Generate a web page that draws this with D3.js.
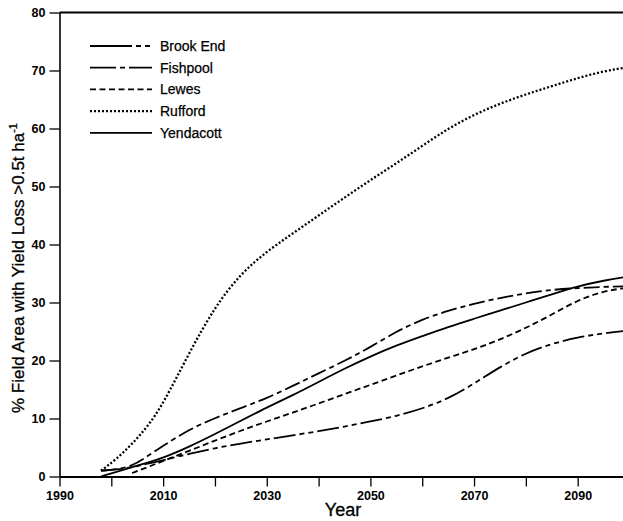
<!DOCTYPE html>
<html>
<head>
<meta charset="utf-8">
<script src="https://cdn.jsdelivr.net/npm/d3@7"></script>
<style>
  body { margin: 0; background: #fff; }
  svg { display: block; font-family: "Liberation Sans", Arial, sans-serif; }
</style>
</head>
<body>
<div id="chart"></div>
<script>
// data
var years = [1998, 2001, 2004, 2007, 2010, 2015, 2020, 2025, 2030, 2035, 2040, 2045,
             2050, 2055, 2060, 2065, 2070, 2075, 2080, 2085, 2090, 2095, 2100];

var brookEnd  = [1.0, 1.2, 1.6, 2.2, 2.8, 3.9, 4.9, 5.7, 6.4, 7.1, 7.8, 8.6,
                 9.5, 10.4, 11.7, 13.4, 16.0, 18.9, 21.3, 22.9, 24.0, 24.7, 25.2];
var fishpool  = [1.0, 1.2, 1.8, 3.5, 5.3, 8.1, 10.1, 11.8, 13.5, 15.6, 17.8, 19.9,
                 22.3, 25.0, 27.1, 28.6, 29.8, 30.8, 31.6, 32.2, 32.5, 32.7, 32.8];
var lewes     = [null, null, 0.6, 1.6, 2.7, 4.4, 6.2, 7.9, 9.5, 11.0, 12.6, 14.2,
                 15.8, 17.4, 19.0, 20.5, 21.9, 23.6, 25.6, 27.9, 30.4, 32.0, 32.6];
var rufford   = [1.0, 3.0, 5.6, 8.6, 12.5, 21.3, 29.3, 35.0, 38.8, 41.9, 45.0, 48.1,
                 51.1, 54.0, 57.0, 60.0, 62.4, 64.3, 65.9, 67.3, 68.7, 69.9, 70.6];
var yendacott = [0.0, 0.8, 1.6, 2.4, 3.2, 5.1, 7.3, 9.6, 11.9, 14.0, 16.3, 18.6,
                 20.7, 22.6, 24.2, 25.8, 27.2, 28.6, 30.0, 31.4, 32.8, 33.8, 34.5];

var seriesNames = ["Brook End", "Fishpool", "Lewes", "Rufford", "Yendacott"];
var seriesValues = [brookEnd, fishpool, lewes, rufford, yendacott];
var dashes = ["22,4,5,4,5,4", "16,4,5,4", "6,3.5", "2,2", null];

var yTicks = [0, 10, 20, 30, 40, 50, 60, 70, 80];
var xTicks = [1990, 2000, 2010, 2020, 2030, 2040, 2050, 2060, 2070, 2080, 2090];
var xLabels = [1990, 2010, 2030, 2050, 2070, 2090];

var svgWidth = 623;
var svgHeight = 521;

var svg = d3.select("#chart")
    .append("svg")
    .attr("width", svgWidth)
    .attr("height", svgHeight);

// SCALES
//=====================
var x = d3.scaleLinear()
    .domain([1990, 2100])
    .range([59.5, 629.5]);

var y = d3.scaleLinear()
    .domain([0, 80])
    .range([476.5, 12.5]);

// AXES
//=====================
var yAxis = svg.append("g")
    .attr("transform", "translate(59.5,0)")
    .call(d3.axisLeft(y).tickValues(yTicks).tickSize(10).tickSizeOuter(0).tickPadding(4));

yAxis.select(".domain").attr("stroke-width", 1.6);
yAxis.selectAll(".tick line").attr("stroke-width", 1.3);
yAxis.selectAll("text")
    .attr("font-size", 12.5)
    .attr("font-weight", "bold")
    .attr("fill", "#000");

var xAxis = svg.append("g")
    .attr("transform", "translate(0,476.5)")
    .call(d3.axisBottom(x).tickValues(xTicks).tickSize(10).tickSizeOuter(0).tickPadding(5)
        .tickFormat(d => xLabels.indexOf(d) >= 0 ? d : ""));

xAxis.select(".domain").attr("stroke-width", 2);
xAxis.selectAll(".tick line").attr("stroke-width", 1.3);
xAxis.selectAll("text")
    .attr("font-size", 12.5)
    .attr("font-weight", "bold")
    .attr("fill", "#000");

// top frame line
svg.append("line")
    .attr("x1", x(1990)).attr("x2", svgWidth)
    .attr("y1", y(80)).attr("y2", y(80))
    .attr("stroke", "#000")
    .attr("stroke-width", 1.8);

// LINES
//=====================
var line = d3.line()
    .defined(d => d[1] != null)
    .x(d => x(d[0]))
    .y(d => y(d[1]))
    .curve(d3.curveBasis);

seriesValues.forEach(function(vals, i) {
    var pts = years.map((yr, j) => [yr, vals[j]]);
    svg.append("path")
        .datum(pts)
        .attr("fill", "none")
        .attr("stroke", "#000")
        .attr("stroke-width", i == 3 ? 2.3 : 1.8)
        .attr("stroke-dasharray", dashes[i])
        .attr("d", line);
});

// LEGEND
//=====================
var legend = svg.append("g");
seriesNames.forEach(function(name, i) {
    var ly = 46 + i * 21.7;
    legend.append("line")
        .attr("x1", 90).attr("x2", 152)
        .attr("y1", ly).attr("y2", ly)
        .attr("stroke", "#000")
        .attr("stroke-width", i == 3 ? 2.3 : 1.8)
        .attr("stroke-dasharray", i == 0 ? "42,4,5,4,5,4" : (i == 1 ? "26,4,5,4" : dashes[i]));
    legend.append("text")
        .attr("x", 160)
        .attr("y", ly)
        .attr("dy", "0.35em")
        .attr("font-size", 14)
        .attr("stroke", "#000")
        .attr("stroke-width", 0.25)
        .text(name);
});

// AXIS LABELS
//=====================
var yLabel = svg.append("text")
    .attr("transform", "translate(24,268) rotate(-90)")
    .attr("text-anchor", "middle")
    .attr("font-size", 17)
    .attr("stroke", "#000")
    .attr("stroke-width", 0.3);
yLabel.append("tspan").text("% Field Area with Yield Loss >0.5t ha");
yLabel.append("tspan").attr("dy", -7).attr("font-size", 11).text("-1");

svg.append("text")
    .attr("x", 343)
    .attr("y", 516)
    .attr("text-anchor", "middle")
    .attr("font-size", 18)
    .attr("stroke", "#000")
    .attr("stroke-width", 0.3)
    .text("Year");
</script>
</body>
</html>
